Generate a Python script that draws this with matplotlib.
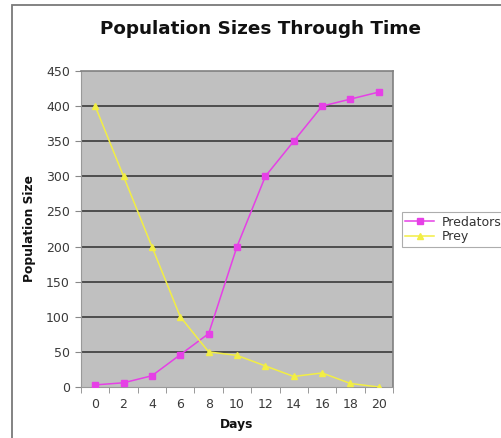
import matplotlib
matplotlib.use("Agg")
import matplotlib.pyplot as plt
from matplotlib.patches import Rectangle
import numpy as np

days = [0, 2, 4, 6, 8, 10, 12, 14, 16, 18, 20]
predators = [3, 6, 16, 46, 76, 200, 300, 350, 400, 410, 420]
prey = [400, 300, 200, 100, 50, 45, 30, 15, 20, 5, 0]
yticks = [0, 50, 100, 150, 200, 250, 300, 350, 400, 450]

W, H = 501, 438
fig = plt.figure(figsize=(W / 100, H / 100), dpi=100)
fig.patch.set_facecolor("white")

# chart area border (extends past right and bottom edges)
fig.add_artist(Rectangle((12 / W, -0.2), 1.2, 1.2 - 5 / H,
                         transform=fig.transFigure, fill=False,
                         edgecolor="#7a7a7a", linewidth=1.3))

ax = fig.add_axes([81 / W, 1 - 387 / H, 312 / W, 316 / H])
ax.set_facecolor("#C0C0C0")
x = np.arange(len(days))

ax.set_ylim(0, 450)
ax.set_xlim(-0.5, len(days) - 0.5)
ax.set_yticks(yticks)
for yv in yticks[1:-1]:
    ax.axhline(yv, color="#3a3a3a", linewidth=1.2, zorder=1)

ax.plot(x, predators, color="#E640E6", marker="s", markersize=5,
        linewidth=1.1, label="Predators", zorder=3)
ax.plot(x, prey, color="#F2EE44", marker="^", markersize=5,
        linewidth=1.1, label="Prey", zorder=3)

ax.set_xticks(x)
ax.set_xticklabels([str(d) for d in days])
ax.set_xticks(np.arange(-0.5, len(days)), minor=True)
ax.tick_params(axis="x", which="major", length=0, pad=8, labelsize=9, labelcolor="#3a3a3a")
ax.tick_params(axis="x", which="minor", length=4, color="#888888")
ax.tick_params(axis="y", length=4, color="#888888", labelsize=9, labelcolor="#3a3a3a", pad=4)

for s in ["top", "right"]:
    ax.spines[s].set_color("#808080")
    ax.spines[s].set_linewidth(1.2)
for s in ["left", "bottom"]:
    ax.spines[s].set_color("#999999")
    ax.spines[s].set_linewidth(0.8)

ax.set_xlabel("Days", fontsize=8.8, fontweight="bold", labelpad=5, color="#111111")
ax.set_ylabel("Population Size", fontsize=8.8, fontweight="bold", labelpad=7, color="#111111")

fig.text(261 / W, 1 - 29 / H, "Population Sizes Through Time",
         ha="center", va="center", fontsize=13.2, fontweight="bold", color="#111111")

leg = ax.legend(loc="center left", bbox_to_anchor=(402 / W, 1 - 229.5 / H),
                bbox_transform=fig.transFigure, fontsize=9, frameon=True,
                fancybox=False, edgecolor="#999999", handlelength=2.3,
                borderpad=0.25, labelspacing=0.15, handletextpad=0.6,
                borderaxespad=0)
leg.get_frame().set_linewidth(0.8)
for t in leg.get_texts():
    t.set_color("#333333")

fig.savefig("out.png", dpi=100)
